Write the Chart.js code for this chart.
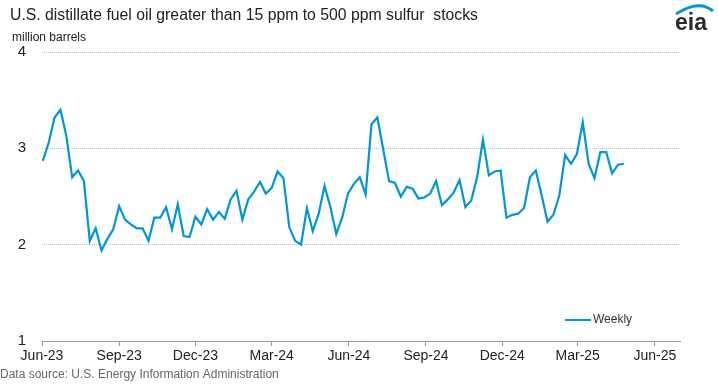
<!DOCTYPE html>
<html>
<head>
<meta charset="utf-8">
<script src="https://cdn.jsdelivr.net/npm/chart.js@4"></script>
<style>
  body { margin: 0; background: #fff; }
  canvas { display: block; }
</style>
</head>
<body>
<canvas id="myChart" width="718" height="384"></canvas>
<script>
// weekly stocks, million barrels, first week ending 2023-06-02
const firstWeek = '2023-06-02';
const weekly = [
  2.87, 3.06, 3.32, 3.40, 3.13, 2.70, 2.77, 2.66, 2.04, 2.17,
  1.94, 2.06, 2.16, 2.40, 2.26, 2.21, 2.17, 2.17, 2.04, 2.28,
  2.28, 2.39, 2.16, 2.42, 2.09, 2.08, 2.29, 2.21, 2.37, 2.26,
  2.34, 2.27, 2.47, 2.56, 2.26, 2.47, 2.55, 2.65, 2.53, 2.59,
  2.76, 2.69, 2.18, 2.04, 2.00, 2.38, 2.14, 2.32, 2.61, 2.39,
  2.11, 2.28, 2.53, 2.63, 2.70, 2.52, 3.25, 3.32, 2.99, 2.66,
  2.64, 2.50, 2.60, 2.58, 2.48, 2.49, 2.53, 2.66, 2.41, 2.47,
  2.54, 2.67, 2.39, 2.46, 2.70, 3.09, 2.72, 2.76, 2.77, 2.28,
  2.31, 2.32, 2.38, 2.70, 2.77, 2.51, 2.24, 2.31, 2.51, 2.93,
  2.84, 2.94, 3.27, 2.84, 2.69, 2.96, 2.96, 2.74, 2.83, 2.84
];
const tickDates = ['2023-06-01', '2023-09-01', '2023-12-01', '2024-03-01', '2024-06-01',
  '2024-09-01', '2024-12-01', '2025-03-01', '2025-06-01'];
const tickLabels = ['Jun-23', 'Sep-23', 'Dec-23', 'Mar-24', 'Jun-24', 'Sep-24', 'Dec-24', 'Mar-25', 'Jun-25'];
const axisStart = '2023-06-01';
const axisEnd = '2025-07-01';
const yTicks = [1, 2, 3, 4];

const DAY = 86400000;
const dayOf = (s) => (Date.parse(s + 'T00:00:00Z') - Date.parse(axisStart + 'T00:00:00Z')) / DAY;
const firstDay = dayOf(firstWeek);
const points = weekly.map((v, i) => ({x: firstDay + i * 7, y: v}));
const tickDays = tickDates.map(dayOf);

const blue = '#0096d7';
const font = "'Liberation Sans', Arial, sans-serif";

const decor = {
  id: 'decor',
  afterDraw(chart) {
    const ctx = chart.ctx;
    ctx.save();
    ctx.textBaseline = 'middle';
    ctx.textAlign = 'left';
    ctx.fillStyle = '#222';
    ctx.font = '16px ' + font;
    ctx.fillText('U.S. distillate fuel oil greater than 15 ppm to 500 ppm sulfur  stocks', 10, 16, 468);
    ctx.font = '12px ' + font;
    ctx.fillText('million barrels', 12, 38, 80);
    ctx.fillStyle = '#666';
    ctx.fillText('Data source: U.S. Energy Information Administration', 0, 375, 280);

    // legend
    const ds = chart.data.datasets[0];
    ctx.strokeStyle = ds.borderColor;
    ctx.lineWidth = 2;
    ctx.beginPath();
    ctx.moveTo(565, 320);
    ctx.lineTo(591, 320);
    ctx.stroke();
    ctx.fillStyle = '#333';
    ctx.fillText(ds.label, 593, 320, 40);

    // eia logo
    ctx.textBaseline = 'alphabetic';
    ctx.fillStyle = '#2b2b2b';
    ctx.font = 'bold 23px ' + font;
    ctx.fillText('eia', 675, 30, 33);
    ctx.strokeStyle = blue;
    ctx.lineWidth = 3;
    ctx.beginPath();
    ctx.moveTo(676, 14);
    ctx.quadraticCurveTo(699, -1, 713, 11);
    ctx.stroke();
    ctx.restore();
  }
};

new Chart(document.getElementById('myChart').getContext('2d'), {
  type: 'line',
  data: {
    datasets: [
      {
        label: 'Weekly',
        data: points,
        borderColor: blue,
        borderWidth: 2.2,
        pointRadius: 0,
        tension: 0,
        fill: false,
      },
    ],
  },
  options: {
    responsive: false,
    animation: false,
    layout: {padding: {top: 52, right: 38, left: 0, bottom: 0}},
    plugins: {legend: {display: false}, tooltip: {enabled: false}},
    scales: {
      x: {
        type: 'linear',
        min: 0,
        max: dayOf(axisEnd),
        afterBuildTicks: (scale) => {
          scale.ticks = tickDays.map((v) => ({value: v}));
        },
        afterFit: (scale) => {
          scale.height = 43;
        },
        ticks: {
          autoSkip: false,
          maxRotation: 0,
          padding: 2,
          color: '#222',
          font: {family: font, size: 14},
          callback: (v) => tickLabels[tickDays.indexOf(v)],
        },
        grid: {drawOnChartArea: false, drawTicks: true, tickLength: 5, color: '#999'},
        border: {display: true, color: '#999', width: 1},
      },
      y: {
        min: 1,
        max: 4,
        afterBuildTicks: (scale) => {
          scale.ticks = yTicks.map((v) => ({value: v}));
        },
        afterFit: (scale) => {
          scale.width = 42;
        },
        ticks: {
          padding: 16,
          color: '#222',
          font: {family: font, size: 15},
        },
        grid: {
          drawTicks: false,
          color: (c) => (c.tick && c.tick.value === 1 ? 'rgba(0,0,0,0)' : '#bdbdbd'),
        },
        border: {display: false, dash: [1, 1]},
      },
    },
  },
  plugins: [decor],
});
</script>
</body>
</html>
